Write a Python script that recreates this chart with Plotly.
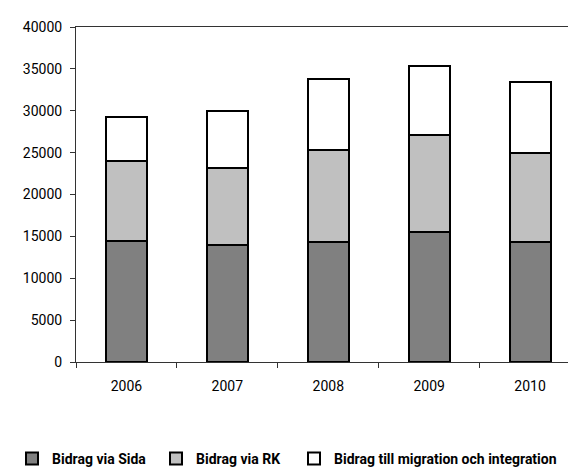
import plotly.graph_objects as go

years = ["2006", "2007", "2008", "2009", "2010"]
sida = [14500, 13950, 14300, 15500, 14300]
rk = [9500, 9200, 11000, 11650, 10700]
migration = [5250, 6850, 8500, 8200, 8450]

series_names = ["Bidrag via Sida", "Bidrag via RK", "Bidrag till migration och integration"]
series_colors = ["#808080", "#C0C0C0", "#FFFFFF"]
y_ticks = [0, 5000, 10000, 15000, 20000, 25000, 30000, 35000, 40000]

FONT = "Roboto, Liberation Sans, sans-serif"

fig = go.Figure()
legends = ["legend", "legend2", "legend3"]
for vals, name, col, lg in zip([sida, rk, migration], series_names, series_colors, legends):
    fig.add_trace(go.Bar(
        x=years, y=vals, name=name, legend=lg,
        marker=dict(color=col, line=dict(color="#000000", width=2)),
        width=0.406,
    ))

leg_common = dict(
    orientation="h", xref="container", yref="container",
    xanchor="left", yanchor="middle",
    font=dict(family=FONT, size=14, color="#000000", weight="bold"),
    itemwidth=30, bgcolor="rgba(0,0,0,0)",
)
W, H = 568, 469
LY = 1 - 459 / H
fig.update_layout(
    width=W, height=H,
    margin=dict(l=76, r=0, t=27, b=107, pad=0, autoexpand=False),
    paper_bgcolor="white", plot_bgcolor="white",
    barmode="stack",
    font=dict(family=FONT, size=14, color="#000000"),
    showlegend=True,
    legend=dict(leg_common, x=12 / W, y=LY),
    legend2=dict(leg_common, x=156 / W, y=LY),
    legend3=dict(leg_common, x=294 / W, y=LY),
    xaxis=dict(
        type="category", range=[-0.5, 4.376],
        showline=True, linecolor="#333333", linewidth=1, mirror=True,
        ticks="outside", ticklen=5, tickcolor="#333333", tickson="boundaries",
        showgrid=False, zeroline=False, ticklabelstandoff=11,
        tickfont=dict(family=FONT, size=14, color="#000000"),
    ),
    yaxis=dict(
        range=[0, 40000], tickvals=y_ticks, tickformat="d",
        showline=True, linecolor="#333333", linewidth=1,
        ticks="outside", ticklen=5, tickcolor="#333333",
        showgrid=False, zeroline=False, ticklabelstandoff=5,
        tickfont=dict(family=FONT, size=14, color="#000000"),
    ),
)
fig.write_html(
    "out.html",
    config={"displayModeBar": False},
    post_script="document.body.style.margin='0';document.body.style.overflow='hidden';",
)
